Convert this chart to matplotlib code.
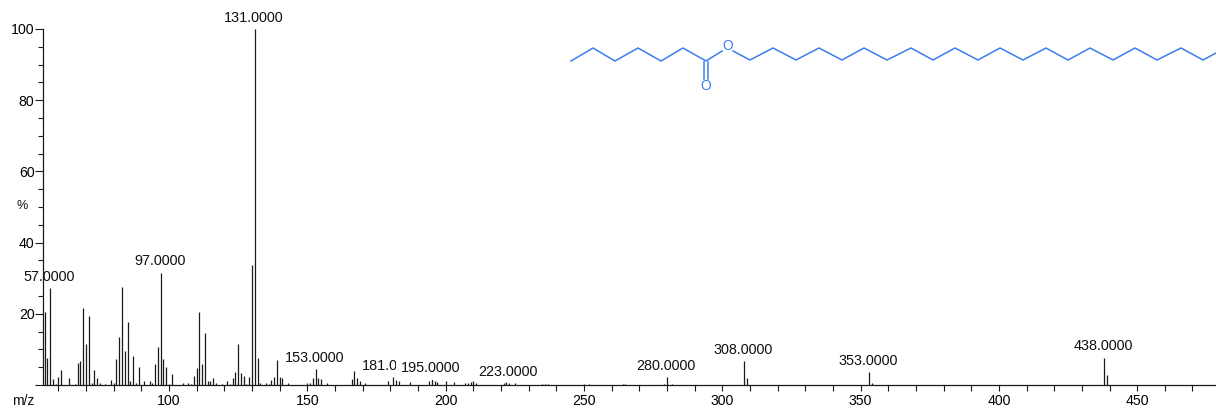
import matplotlib
matplotlib.use('Agg')
import matplotlib.pyplot as plt
from matplotlib.ticker import MultipleLocator

plt.rcParams['font.family'] = ['Liberation Sans', 'DejaVu Sans']

# peaks (m/z, % intensity)
mz = [55, 56, 57, 58, 59, 60, 61, 64, 66, 67, 68, 69, 70, 71, 72, 73, 74, 75, 77, 79,
      80, 81, 82, 83, 84, 85, 86, 87, 88, 89, 91, 93, 94, 95, 96, 97, 98, 99, 100, 101,
      105, 107, 108, 109, 110, 111, 112, 113, 114, 115, 116, 117, 119, 121, 122, 123,
      124, 125, 126, 127, 128, 129, 130, 131, 132, 133, 135, 136, 137, 138, 139, 140,
      141, 143, 150, 151, 152, 153, 154, 155, 157, 166, 167, 168, 169, 171, 179, 181,
      182, 183, 187, 194, 195, 196, 197, 200, 203, 207, 208, 209, 210, 211, 221, 222,
      223, 225, 235, 236, 237, 250, 252, 264, 265, 279, 280, 282, 308, 309, 353, 354,
      438, 439]
intensity = [20.5, 7.7, 27.3, 1.6, 0.4, 2.2, 4.1, 1.9, 0.4, 6.3, 6.7, 21.5, 11.4, 19.4, 0.7, 4.1,
             1.9, 0.7, 0.4, 1.5, 0.7, 7.4, 13.6, 27.4, 9.6, 17.6, 1.1, 8.1, 0.7, 5.1, 1.1, 1.1,
             0.7, 5.8, 10.7, 31.6, 7.4, 5.1, 0.4, 3.0, 0.7, 0.7, 0.4, 2.6, 4.8, 20.5, 5.8, 14.7,
             1.1, 1.1, 1.9, 0.7, 0.4, 1.1, 0.4, 1.9, 3.7, 11.4, 3.4, 2.6, 0.4, 2.2, 33.7, 100,
             7.7, 0.7, 0.7, 0.4, 1.5, 2.2, 6.9, 2.2, 2.0, 0.7, 0.7, 0.5, 2.0, 4.5, 1.9, 1.7,
             0.5, 1.7, 3.8, 1.9, 1.2, 0.5, 1.0, 2.3, 1.4, 1.0, 0.8, 1.0, 1.6, 1.0, 0.8, 1.0,
             0.8, 0.5, 0.7, 0.9, 1.2, 0.6, 0.5, 0.8, 0.6, 0.5, 0.4, 0.4, 0.4, 0.4, 0.4, 0.4,
             0.4, 0.4, 2.3, 0.4, 6.7, 1.9, 3.7, 0.6, 7.7, 2.7]

# peaks that carry a label
label_mz = [57, 97, 131, 153, 181, 195, 223, 280, 308, 353, 438]
label_text = ['57.0000', '97.0000', '131.0000', '153.0000', '181.0000', '195.0000',
              '223.0000', '280.0000', '308.0000', '353.0000', '438.0000']

# structure drawn in pixels of the picture
chain_x = [571, 593, 615, 638, 661, 683, 706, 722]
chain_y = [61, 48, 61, 48, 61, 48, 61, 51]
tail_x = [733, 750, 773, 796, 819, 842, 864, 887, 911, 933, 955, 978, 1000, 1023, 1046,
           1068, 1090, 1113, 1135, 1157, 1181, 1203, 1216]
tail_y = [51, 60, 48, 60, 48, 60, 48, 60, 48, 60, 48, 60, 48, 60, 48, 60, 48, 60, 48, 60,
          48, 60, 53]
blue = '#3b7ded'

fig = plt.figure(figsize=(12.16, 4.11), dpi=100)
ax = fig.add_axes([43.5 / 1216, 26 / 411, 1 - 43.5 / 1216, (385 - 29) / 411])
ax.set_xlim(54.63, 478.5)
ax.set_ylim(0, 100)

ax.vlines(mz, 0, intensity, color='#1a1a1a', lw=0.9, zorder=1)

# white box behind each label, so 195 cuts into 181 as in the original
for m, txt in zip(label_mz, label_text):
    top = intensity[mz.index(m)]
    # 195 box a bit taller, it has to hide the end of the 181 label
    pad = 3.5 if m == 195 else 0.5
    ax.annotate(txt, xy=(m, top), xytext=(-0.8, 3), textcoords='offset points',
                ha='center', va='bottom', fontsize=10.4, color='#111111', zorder=2,
                annotation_clip=False,
                bbox=dict(facecolor='white', edgecolor='none', pad=pad))

for side in ['top', 'right']:
    ax.spines[side].set_visible(False)
for side in ['left', 'bottom']:
    ax.spines[side].set_linewidth(0.9)
    ax.spines[side].set_color('#1a1a1a')

ax.xaxis.set_major_locator(MultipleLocator(50))
ax.xaxis.set_minor_locator(MultipleLocator(10))
ax.yaxis.set_major_locator(MultipleLocator(20))
ax.yaxis.set_minor_locator(MultipleLocator(5))
ax.set_yticks([0, 20, 40, 60, 80, 100])
ax.set_yticklabels(['', '20', '40', '60', '80', '100'])
ax.tick_params(axis='x', which='major', length=4.3, width=0.8, pad=2.5, labelsize=10.2, color='#1a1a1a')
ax.tick_params(axis='x', which='minor', length=4.3, width=0.8, color='#1a1a1a')
ax.tick_params(axis='y', which='major', length=6, width=0.8, pad=0.5, labelsize=10.2, color='#1a1a1a')
ax.tick_params(axis='y', which='minor', length=3.5, width=0.8, color='#1a1a1a')

fig.text(22 / 1216, 1 - 206 / 411, '%', fontsize=9, ha='center', va='center', color='#111111')
fig.text(23 / 1216, 1 - 401 / 411, 'm/z', fontsize=10, ha='center', va='center', color='#111111')

# overlay for the molecule, in image pixels
mol = fig.add_axes([0, 0, 1, 1], facecolor='none')
mol.set_xlim(0, 1216)
mol.set_ylim(411, 0)
mol.axis('off')
mol.plot(chain_x, chain_y, color=blue, lw=1.1)
mol.plot(tail_x, tail_y, color=blue, lw=1.1)
mol.plot([703.8, 703.8], [62, 79], color=blue, lw=1.1)
mol.plot([708, 708], [62, 79], color=blue, lw=1.1)
mol.text(728, 46.5, 'O', color=blue, fontsize=10, ha='center', va='center')
mol.text(705.5, 86.5, 'O', color=blue, fontsize=10, ha='center', va='center')

plt.savefig('out.png', dpi=100)
